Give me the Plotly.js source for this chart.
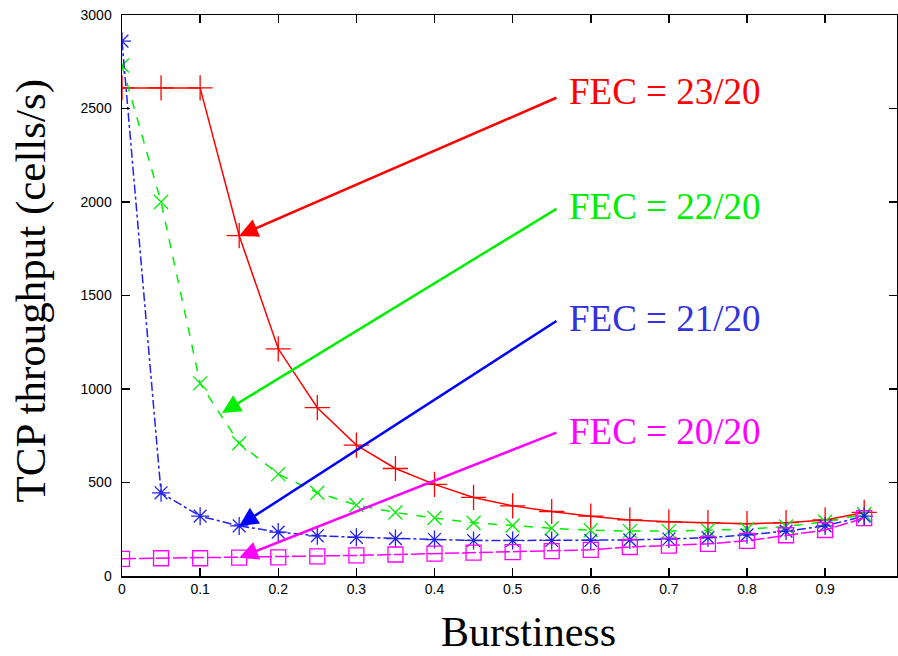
<!DOCTYPE html>
<html><head><meta charset="utf-8">
<script src="https://cdn.plot.ly/plotly-3.0.1.min.js"></script>
<style>html,body{margin:0;padding:0;background:#fff}</style>
</head><body>
<div id="chart" style="width:898px;height:656px"></div>
<script>
const burstiness = [0,0.05,0.1,0.15,0.2,0.25,0.3,0.35,0.4,0.45,0.5,0.55,0.6,0.65,0.7,0.75,0.8,0.85,0.9,0.95];
const fec23 = [2610,2610,2610,1820,1215,900,700,575,490,420,375,345,320,300,290,285,280,285,300,340];
const fec22 = [2730,2000,1030,710,545,445,380,340,310,285,270,255,245,240,240,245,250,265,290,330];
const fec21 = [2860,445,320,268,235,215,207,200,195,190,190,190,190,193,198,205,220,240,268,320];
const fec20 = [92,95,95,98,100,105,110,115,120,125,128,133,140,155,162,172,188,218,246,310];
const seriesNames = ['FEC = 23/20','FEC = 22/20','FEC = 21/20','FEC = 20/20'];
const xTicks = [0,0.1,0.2,0.3,0.4,0.5,0.6,0.7,0.8,0.9];
const yTicks = [0,500,1000,1500,2000,2500,3000];
const xTitle = 'Burstiness';
const yTitle = 'TCP throughput (cells/s)';

const colors = ['#ff0000','#00ee00','#2222ee','#ff00ff'];
const arrowColors = ['#ff0000','#00ee00','#0000ff','#ff00ff'];
const labelColors = ['#ff0000','#00ee00','#3333dd','#ff00ff'];
const traces = [
  {x:burstiness,y:fec23,name:seriesNames[0],mode:'lines+markers',line:{color:colors[0],width:1.5,dash:'solid'},marker:{symbol:'cross-thin-open',size:18,line:{color:colors[0],width:1.3}}},
  {x:burstiness,y:fec22,name:seriesNames[1],mode:'lines+markers',line:{color:colors[1],width:1.5,dash:'dash'},marker:{symbol:'x-thin-open',size:14,line:{color:colors[1],width:1.3}}},
  {x:burstiness,y:fec21,name:seriesNames[2],mode:'lines+markers',line:{color:colors[2],width:1.5,dash:'dashdot'},marker:{symbol:'asterisk-open',size:15,line:{color:colors[2],width:1.3}}},
  {x:burstiness,y:fec20,name:seriesNames[3],mode:'lines+markers',line:{color:colors[3],width:1.5,dash:'14px,3px'},marker:{symbol:'square-open',size:15,line:{color:colors[3],width:1.3}}}
];

const labelY = [2590,1975,1375,775];
const arrowTailY = [2561,1968,1369,770];
const arrowHeads = [[burstiness[3],fec23[3]],[0.128,872],[burstiness[3],fec21[3]],[burstiness[3],fec20[3]]];
const serif = 'Liberation Serif, Times New Roman, serif';
const annotations = [];
for (let i=0;i<4;i++){
  annotations.push({x:arrowHeads[i][0],y:arrowHeads[i][1],ax:0.558,ay:arrowTailY[i],axref:'x',ayref:'y',xref:'x',yref:'y',
    text:'',showarrow:true,arrowhead:2,arrowsize:1.5,arrowwidth:2.5,arrowcolor:arrowColors[i]});
  annotations.push({x:0.57,y:labelY[i],xref:'x',yref:'y',xanchor:'left',yanchor:'middle',showarrow:false,
    text:seriesNames[i],font:{family:serif,size:37,color:labelColors[i]}});
}
annotations.push({x:0.52,y:-0.1426,xref:'x',yref:'paper',xanchor:'center',yanchor:'bottom',showarrow:false,borderpad:0,
  text:xTitle,font:{family:serif,size:42,color:'#000'}});
annotations.push({x:-0.118,y:0.508,xref:'paper',yref:'paper',xanchor:'center',yanchor:'middle',showarrow:false,textangle:-90,
  text:yTitle,font:{family:serif,size:43,color:'#000'}});

const layout = {
  width:898,height:656,
  margin:{l:122,r:1,t:15,b:80},
  paper_bgcolor:'#fff',plot_bgcolor:'#fff',
  showlegend:false,
  xaxis:{range:[0,0.992],tickvals:xTicks,ticktext:xTicks.map(String),ticks:'inside',ticklen:8,tickwidth:1.5,tickcolor:'#000',
    showline:true,linecolor:'#000',linewidth:1.5,mirror:'ticks',showgrid:false,zeroline:false,
    tickfont:{family:'Liberation Sans, Arial, sans-serif',size:14,color:'#000'}},
  yaxis:{range:[0,3000],tickvals:yTicks,ticks:'inside',ticklen:8,tickwidth:1.5,tickcolor:'#000',ticklabelstandoff:6,
    showline:true,linecolor:'#000',linewidth:1.5,mirror:'ticks',showgrid:false,zeroline:false,
    tickfont:{family:'Liberation Sans, Arial, sans-serif',size:14,color:'#000'}},
  annotations:annotations
};
Plotly.newPlot('chart',traces,layout,{displayModeBar:false,staticPlot:true});
</script>
</body></html>
